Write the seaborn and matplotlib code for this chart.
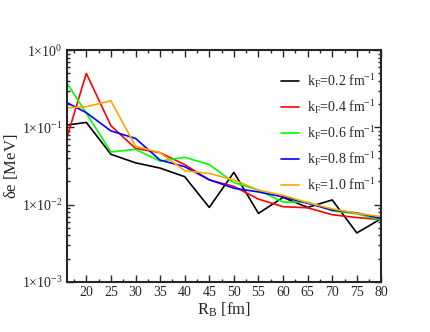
import numpy as np
import pandas as pd
import seaborn as sns
import matplotlib
matplotlib.use("Agg")
import matplotlib.pyplot as plt
from matplotlib.ticker import MultipleLocator, LogLocator, FuncFormatter, NullFormatter

R = [16, 20, 25, 30, 35, 40, 45, 50, 55, 60, 65, 70, 75, 80]
k02 = [0.107, 0.116, 0.0448, 0.0348, 0.0297, 0.023, 0.0092, 0.0262, 0.0077, 0.0124, 0.0092, 0.0115, 0.0043, 0.0066]
k04 = [0.072, 0.50, 0.105, 0.0535, 0.047, 0.033, 0.0209, 0.0172, 0.0118, 0.0094, 0.0091, 0.0074, 0.0068, 0.0064]
k06 = [0.378, 0.153, 0.048, 0.052, 0.0366, 0.041, 0.033, 0.0193, 0.0154, 0.0108, 0.0108, 0.0083, 0.0076, 0.0063]
k08 = [0.21, 0.155, 0.090, 0.072, 0.0377, 0.031, 0.021, 0.0163, 0.0146, 0.0126, 0.0104, 0.0085, 0.0078, 0.0066]
k10 = [0.179, 0.185, 0.221, 0.057, 0.047, 0.0275, 0.0253, 0.0209, 0.0154, 0.0132, 0.0106, 0.0088, 0.0077, 0.0070]
labels = [r"k$_\mathregular{F}$=0.2 fm$^\mathregular{-1}$",
          r"k$_\mathregular{F}$=0.4 fm$^\mathregular{-1}$",
          r"k$_\mathregular{F}$=0.6 fm$^\mathregular{-1}$",
          r"k$_\mathregular{F}$=0.8 fm$^\mathregular{-1}$",
          r"k$_\mathregular{F}$=1.0 fm$^\mathregular{-1}$"]
colors = ["#000000", "#ff0000", "#00ff00", "#0000ff", "#ffa500"]
xticks = [20, 25, 30, 35, 40, 45, 50, 55, 60, 65, 70, 75, 80]

rows = []
for lab, ys in zip(labels, [k02, k04, k06, k08, k10]):
    for x, y in zip(R, ys):
        rows.append({"R": x, "de": y, "kF": lab})
df = pd.DataFrame(rows)

sns.set_style("ticks")
plt.rcParams["font.family"] = ["Liberation Serif", "DejaVu Serif"]
plt.rcParams["mathtext.fontset"] = "custom"
plt.rcParams["mathtext.rm"] = "Liberation Serif"
plt.rcParams["mathtext.it"] = "Liberation Serif"

fig = plt.figure(figsize=(4.30, 3.32), dpi=100)
ax = fig.add_axes([0.155, 0.151, 0.732, 0.698])
sns.lineplot(data=df, x="R", y="de", hue="kF", palette=colors, linewidth=1.2,
             ax=ax, estimator=None, sort=False)
ax.set_yscale("log")
ax.set_xlim(16, 80)
ax.set_ylim(1e-3, 1)

def fmt(v, pos):
    e = int(round(np.log10(v)))
    return r"1$\times$10$^{\mathregular{%d}}$" % e
ax.yaxis.set_major_locator(LogLocator(base=10, numticks=10))
ax.yaxis.set_major_formatter(FuncFormatter(fmt))
ax.yaxis.set_minor_locator(LogLocator(base=10, subs=np.arange(2, 10), numticks=10))
ax.yaxis.set_minor_formatter(NullFormatter())
ax.set_xticks(xticks)
ax.xaxis.set_minor_locator(MultipleLocator(2.5))

ax.tick_params(which="both", direction="in", top=True, right=True, labelsize=10, width=1.0)
ax.tick_params(which="major", length=5, pad=3)
ax.tick_params(which="minor", length=2.5)
for s in ax.spines.values():
    s.set_linewidth(1.5)

ax.set_xlabel(r"R$_\mathregular{B}$ [fm]", fontsize=12, labelpad=1)
ax.set_ylabel(r"$\mathregular{\delta}$e [MeV]", fontsize=12, labelpad=1)

ax.legend(loc="upper right", bbox_to_anchor=(1.0, 0.93), borderaxespad=0.0,
          frameon=False, fontsize=10, handlelength=1.3, handletextpad=0.6,
          labelspacing=0.58)
fig.savefig("out.png", dpi=100)
